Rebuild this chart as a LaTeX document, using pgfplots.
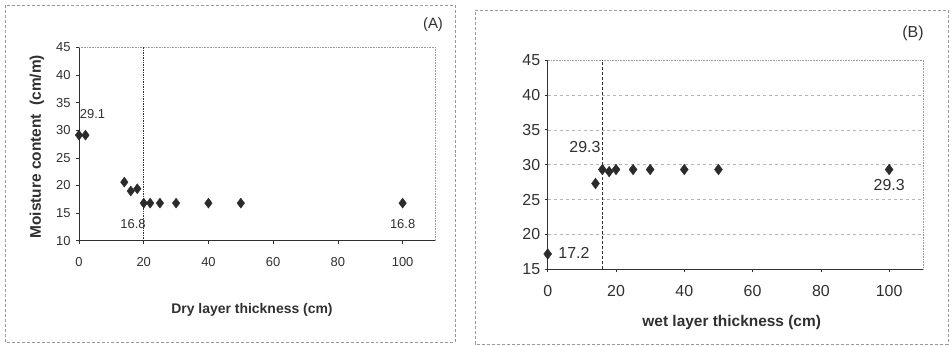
\documentclass[border=0pt]{standalone}
\usepackage{pgfplots}
\pgfplotsset{compat=1.18}
\usepackage{fontspec}
\setmainfont{Liberation Sans}
\definecolor{ink}{HTML}{303030}
\definecolor{mk}{HTML}{2B2B2B}
\definecolor{frm}{HTML}{9A9A9A}
\definecolor{grd}{HTML}{B5B5B5}
\pgfplotstableread{
x y
0 29.1
2 29.1
14 20.6
16 19.0
18 19.4
20 16.8
22 16.8
25 16.8
30 16.8
40 16.8
50 16.8
100 16.8
}\dataA
\pgfplotstableread{
x y
0 17.2
14 27.3
16 29.3
18 29.0
20 29.3
25 29.3
30 29.3
40 29.3
50 29.3
100 29.3
}\dataB
\pgfplotsset{
  base/.style={
    scale only axis, anchor=south west,
    axis lines*=left, axis line style={ink, line width=0.7bp},
    xmin=0, xmax=110, xtick={0,20,...,100},
    tick align=outside, major tick length=3bp,
    tick style={ink, line width=0.6bp},
    /pgf/number format/assume math mode=true,
    clip=false,
  }
}
\begin{document}
\begin{tikzpicture}[x=1bp,y=1bp]
\path[use as bounding box] (0,0) rectangle (952,345);
\draw[frm, densely dashed, line width=0.5bp] (5,3) rectangle (455,340);
\draw[frm, densely dashed, line width=0.5bp] (475,1) rectangle (948,335);
\node[ink, font=\fontsize{15}{18}\selectfont] at (433,320) {(A)};
\node[ink, font=\fontsize{16}{19}\selectfont] at (913,312) {(B)};
\node[ink, font=\bfseries\fontsize{14}{17}\selectfont] at (252,35) {Dry layer thickness (cm)};
\node[ink, font=\bfseries\fontsize{15.5}{18}\selectfont, rotate=90] at (37,198.3) {Moisture content\ \ (cm/m)};
\node[ink, font=\bfseries\fontsize{15.5}{18}\selectfont] at (731.7,22.3) {wet layer thickness (cm)};

\begin{axis}[base, at={(79bp,104.3bp)}, width=356bp, height=193.4bp,
  ymin=10, ymax=45, ytick={10,15,...,45},
  xticklabel style={font=\fontsize{13}{15}\selectfont, text=ink, yshift=-10bp},
  yticklabel style={font=\fontsize{13}{15}\selectfont, text=ink, xshift=-2bp},
]
\draw[frm, densely dotted, line width=0.6bp] (axis cs:0,45) -- (axis cs:110,45) -- (axis cs:110,10);
\draw[ink, densely dotted, line width=0.7bp] (axis cs:20,10) -- (axis cs:20,45);
\addplot[only marks, mark=diamond*, mark size=5bp, mk] table[x=x,y=y] {\dataA};
\node[ink, font=\fontsize{13}{15}\selectfont] at (axis cs:4.2,32.9) {29.1};
\node[ink, font=\fontsize{13}{15}\selectfont] at (axis cs:16.7,13.05) {16.8};
\node[ink, font=\fontsize{13}{15}\selectfont] at (axis cs:100,13.05) {16.8};
\end{axis}

\begin{axis}[base, at={(547.7bp,75.7bp)}, width=375.6bp, height=209.3bp,
  ymin=15, ymax=45, ytick={15,20,...,45},
  xticklabel style={font=\fontsize{16}{19}\selectfont, text=ink, yshift=-10bp},
  yticklabel style={font=\fontsize{16}{19}\selectfont, text=ink, xshift=-1bp},
]
\foreach \yy in {20,25,...,40}{
  \edef\tmp{\noexpand\draw[grd, dashed, line width=0.5bp] (axis cs:0,\yy) -- (axis cs:110,\yy);}\tmp
}
\draw[frm, densely dotted, line width=0.6bp] (axis cs:0,45) -- (axis cs:110,45) -- (axis cs:110,15);
\draw[ink, densely dashed, line width=0.6bp] (axis cs:16,15) -- (axis cs:16,45);
\addplot[only marks, mark=diamond*, mark size=5.3bp, mk] table[x=x,y=y] {\dataB};
\node[ink, font=\fontsize{16}{19}\selectfont] at (axis cs:10.9,32.5) {29.3};
\node[ink, font=\fontsize{16}{19}\selectfont] at (axis cs:7.7,17.35) {17.2};
\node[ink, font=\fontsize{16}{19}\selectfont] at (axis cs:100,27.1) {29.3};
\end{axis}
\end{tikzpicture}
\end{document}
